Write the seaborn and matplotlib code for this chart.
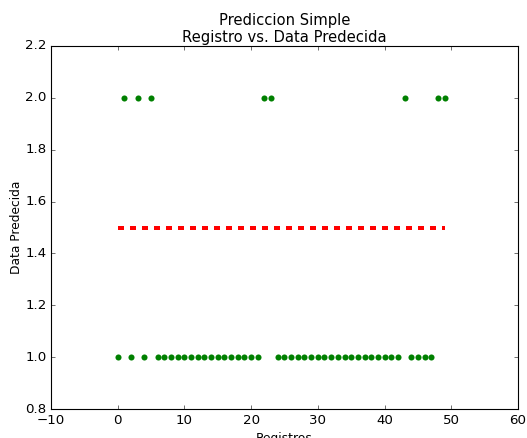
import numpy as np
import pandas as pd
import seaborn as sb
import matplotlib
matplotlib.use('Agg')
import matplotlib.pyplot as plt

# registros y valores predecidos
registros = list(range(50))
data_predecida = [1, 2, 1, 2, 1, 2, 1, 1, 1, 1,
                  1, 1, 1, 1, 1, 1, 1, 1, 1, 1,
                  1, 1, 2, 2, 1, 1, 1, 1, 1, 1,
                  1, 1, 1, 1, 1, 1, 1, 1, 1, 1,
                  1, 1, 1, 2, 1, 1, 1, 1, 2, 2]
prediccion = [1.5] * 50

df = pd.DataFrame({'Registros': registros,
                   'Data Predecida': data_predecida,
                   'Prediccion': prediccion})

plt.style.use('classic')
plt.rcParams['font.family'] = ['DejaVu Sans']

fig = plt.figure(figsize=(527 / 80, 438 / 80), dpi=80, facecolor='white')
ax = fig.add_axes([0.0968, 0.066, 0.886, 0.829])

sb.scatterplot(x='Registros', y='Data Predecida', data=df, ax=ax,
               color='#008000', s=30, linewidth=0, zorder=3)
sb.lineplot(x='Registros', y='Prediccion', data=df, ax=ax,
            color='red', linewidth=3.6, dashes=False, zorder=2)
linea = ax.lines[-1]
linea.set_dashes((5.4, 5.4))
linea.set_dash_capstyle('butt')

ax.set_xlim(-10, 60)
ax.set_ylim(0.8, 2.2)
ax.set_xticks(np.arange(-10, 61, 10))
ax.set_yticks(np.arange(0.8, 2.21, 0.2))
ax.set_title('Prediccion Simple\nRegistro vs. Data Predecida', fontsize=13.3,
             linespacing=1.1, pad=4)
ax.set_xlabel('Registros', fontsize=11)
ax.set_ylabel('Data Predecida', fontsize=11, labelpad=2)

fig.savefig('out.png', dpi=80, facecolor='white')
